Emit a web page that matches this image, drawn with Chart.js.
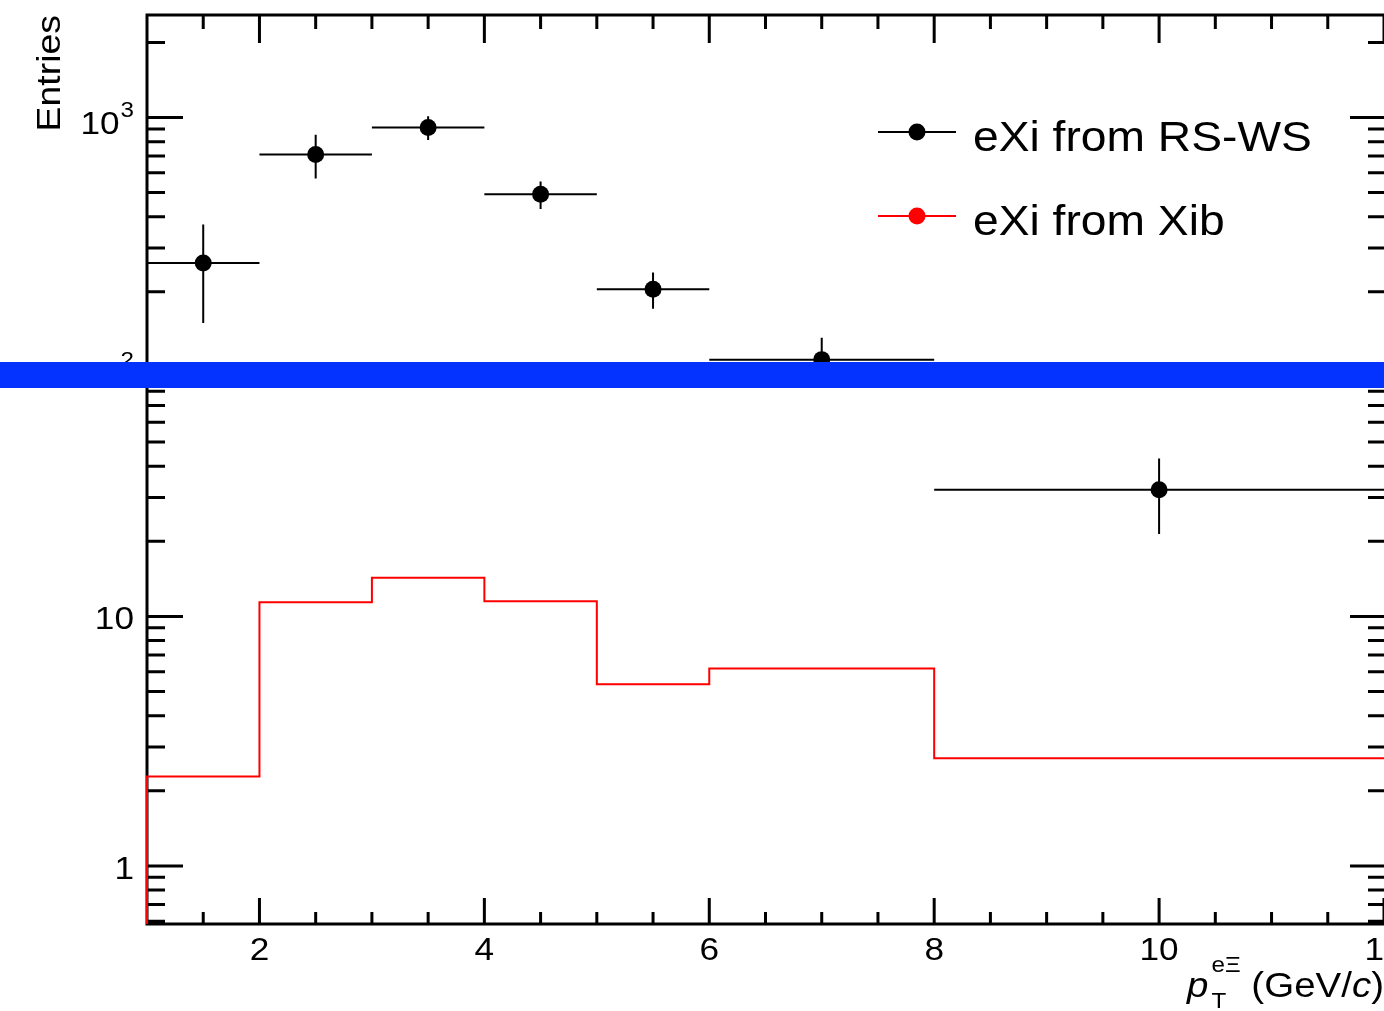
<!DOCTYPE html>
<html lang="en">
<head>
    <meta charset="UTF-8">
    <title>eXi pT spectrum</title>
    <script src="https://cdn.jsdelivr.net/npm/chart.js"></script>
    <style>
        html, body {
            margin: 0;
            padding: 0;
            background-color: #fff;
        }

        canvas {
            display: block;
        }
    </style>
</head>
<body>

    <canvas id="myChart" width="1384" height="1011"></canvas>

    <script>
        // bin edges in pT (GeV/c)
        var binEdges = [1, 2, 3, 4, 5, 6, 8, 12];
        // eXi from RS-WS: counts per bin and their errors
        var rswsCounts = [261, 711, 912, 492, 205, 107, 32.2];
        var rswsErrors = [111, 141, 100, 62, 34, 24, 10.8];
        // eXi from Xib: histogram contents
        var xibCounts = [2.28, 11.4, 14.3, 11.5, 5.35, 6.19, 2.70];

        // axis ticks and labels
        var xMajorTicks = [2, 4, 6, 8, 10, 12];
        var xTickLabels = ['2', '4', '6', '8', '10', '12'];
        var xMinorStep = 0.5;
        var yMajorTicks = [1, 10, 100, 1000];
        var yTickLabels = [['1', ''], ['10', ''], ['10', '2'], ['10', '3']];
        var yMin = 0.585, yMax = 2575;

        var FONT = '"Liberation Sans", Arial, Helvetica, sans-serif';
        var STRETCH = 1.1;

        function drawText(ctx, str, x, y, size, align, style) {
            ctx.save();
            ctx.font = (style || '') + ' ' + size + 'px ' + FONT;
            var w = ctx.measureText(str).width * STRETCH;
            var left = align === 'right' ? x - w : (align === 'center' ? x - w / 2 : x);
            ctx.translate(left, y);
            ctx.scale(STRETCH, 1);
            ctx.textAlign = 'left';
            ctx.textBaseline = 'alphabetic';
            ctx.fillStyle = '#000';
            ctx.fillText(str, 0, 0);
            ctx.restore();
            return w;
        }

        function textWidth(ctx, str, size, style) {
            ctx.save();
            ctx.font = (style || '') + ' ' + size + 'px ' + FONT;
            var w = ctx.measureText(str).width * STRETCH;
            ctx.restore();
            return w;
        }

        var binCenters = rswsCounts.map(function (_, i) { return (binEdges[i] + binEdges[i + 1]) / 2; });

        var rswsPoints = rswsCounts.map(function (c, i) { return { x: binCenters[i], y: c }; });

        // step outline, starting from the bottom of the frame like a ROOT histogram
        var xibPoints = [{ x: binEdges[0], y: yMin }];
        xibCounts.forEach(function (c, i) { xibPoints.push({ x: binEdges[i], y: c }); });
        xibPoints.push({ x: binEdges[binEdges.length - 1], y: xibCounts[xibCounts.length - 1] });

        // frame and inward ticks, ROOT style
        var axesPlugin = {
            id: 'rootAxes',
            beforeDatasetsDraw: function (chart) {
                var ctx = chart.ctx, a = chart.chartArea;
                var xs = chart.scales.x, ys = chart.scales.y;
                ctx.save();
                ctx.strokeStyle = '#000';
                ctx.lineWidth = 3;
                ctx.beginPath();
                ctx.moveTo(a.right, a.top);
                ctx.lineTo(a.left, a.top);
                ctx.lineTo(a.left, a.bottom);
                ctx.lineTo(a.right, a.bottom);

                for (var v = xs.min + xMinorStep; v <= xs.max + 1e-9; v += xMinorStep) {
                    var px = xs.getPixelForValue(v);
                    var major = xMajorTicks.indexOf(v) >= 0;
                    ctx.moveTo(px, a.bottom);
                    ctx.lineTo(px, a.bottom - (major ? 26 : 12));
                    ctx.moveTo(px, a.top);
                    ctx.lineTo(px, a.top + (major ? 28 : 14));
                }

                for (var e = -1; e <= 4; e++) {
                    for (var d = 1; d <= 9; d++) {
                        var val = d * Math.pow(10, e);
                        if (val < ys.min || val > ys.max) continue;
                        var py = ys.getPixelForValue(val);
                        var maj = d === 1;
                        ctx.moveTo(a.left, py);
                        ctx.lineTo(a.left + (maj ? 36 : 18), py);
                        ctx.moveTo(a.right, py);
                        ctx.lineTo(a.right - (maj ? 34 : 16), py);
                    }
                }
                ctx.stroke();
                ctx.restore();
            }
        };

        // horizontal bin widths and vertical errors of the RS-WS points
        var errorBarPlugin = {
            id: 'errorBars',
            beforeDatasetsDraw: function (chart) {
                var ctx = chart.ctx, xs = chart.scales.x, ys = chart.scales.y;
                ctx.save();
                ctx.strokeStyle = '#000';
                ctx.lineWidth = 2;
                ctx.beginPath();
                rswsCounts.forEach(function (c, i) {
                    var py = ys.getPixelForValue(c);
                    var px = xs.getPixelForValue(binCenters[i]);
                    ctx.moveTo(xs.getPixelForValue(binEdges[i]), py);
                    ctx.lineTo(xs.getPixelForValue(binEdges[i + 1]), py);
                    ctx.moveTo(px, ys.getPixelForValue(c + rswsErrors[i]));
                    ctx.lineTo(px, ys.getPixelForValue(c - rswsErrors[i]));
                });
                ctx.stroke();
                ctx.restore();
            }
        };

        var labelPlugin = {
            id: 'rootLabels',
            afterDraw: function (chart) {
                var ctx = chart.ctx, a = chart.chartArea;
                var xs = chart.scales.x, ys = chart.scales.y;

                xMajorTicks.forEach(function (v, i) {
                    drawText(ctx, xTickLabels[i], xs.getPixelForValue(v), 960, 32, 'center');
                });

                yMajorTicks.forEach(function (v, i) {
                    var py = ys.getPixelForValue(v);
                    var lab = yTickLabels[i];
                    if (lab[1]) {
                        var sw = drawText(ctx, lab[1], 134, py, 22, 'right');
                        drawText(ctx, lab[0], 134 - sw - 1, py + 17, 32, 'right');
                    } else {
                        drawText(ctx, lab[0], 134, py + 13, 32, 'right');
                    }
                });

                // y title
                ctx.save();
                ctx.translate(60, a.top);
                ctx.rotate(-Math.PI / 2);
                drawText(ctx, 'Entries', 0, 0, 34, 'right');
                ctx.restore();

                // x title: p_T^{eXi} (GeV/c)
                var big = 35, small = 22;
                var wp = textWidth(ctx, 'p', big, 'italic');
                var wsup = Math.max(textWidth(ctx, 'e\u039e', small), textWidth(ctx, 'T', small));
                var w1 = textWidth(ctx, ' (GeV/', big);
                var wc = textWidth(ctx, 'c', big, 'italic');
                var w2 = textWidth(ctx, ')', big);
                var x = a.right - (wp + 3 + wsup + w1 + wc + w2);
                drawText(ctx, 'p', x, 997, big, 'left', 'italic');
                x += wp + 3;
                drawText(ctx, 'e\u039e', x, 972, small, 'left');
                drawText(ctx, 'T', x, 1008, small, 'left');
                x += wsup;
                x += drawText(ctx, ' (GeV/', x, 997, big, 'left');
                x += drawText(ctx, 'c', x, 997, big, 'left', 'italic');
                drawText(ctx, ')', x, 997, big, 'left');

                // legend
                var rows = [132, 216];
                chart.data.datasets.forEach(function (ds, i) {
                    var y = rows[i];
                    ctx.save();
                    ctx.strokeStyle = ds.borderColor;
                    ctx.lineWidth = 2;
                    ctx.beginPath();
                    ctx.moveTo(878, y);
                    ctx.lineTo(956, y);
                    ctx.stroke();
                    ctx.fillStyle = ds.borderColor;
                    ctx.beginPath();
                    ctx.arc(917, y, 8.5, 0, Math.PI * 2);
                    ctx.fill();
                    ctx.restore();
                    drawText(ctx, ds.label, 973, y + 19, 42, 'left');
                });

                // blue band across the plot
                ctx.save();
                ctx.fillStyle = '#0433ff';
                ctx.fillRect(0, 362, chart.width, 26);
                ctx.restore();
            }
        };

        var ctx = document.getElementById('myChart').getContext('2d');

        var myChart = new Chart(ctx, {
            type: 'scatter',
            data: {
                datasets: [
                    {
                        label: 'eXi from RS-WS',
                        data: rswsPoints,
                        borderColor: '#000000',
                        backgroundColor: '#000000',
                        pointRadius: 8.5,
                        pointBorderWidth: 0,
                        showLine: false
                    },
                    {
                        type: 'line',
                        label: 'eXi from Xib',
                        data: xibPoints,
                        borderColor: '#ff0000',
                        borderWidth: 2,
                        pointRadius: 0,
                        stepped: 'before',
                        clip: false,
                        fill: false
                    }
                ]
            },
            options: {
                responsive: false,
                animation: false,
                layout: {
                    autoPadding: false,
                    padding: { left: 147, top: 15, right: 0, bottom: 87 }
                },
                scales: {
                    x: {
                        type: 'linear',
                        min: 1,
                        max: 12,
                        display: false
                    },
                    y: {
                        type: 'logarithmic',
                        min: yMin,
                        max: yMax,
                        display: false
                    }
                },
                plugins: {
                    legend: { display: false },
                    tooltip: { enabled: false }
                }
            },
            plugins: [axesPlugin, errorBarPlugin, labelPlugin]
        });
    </script>
</body>
</html>
